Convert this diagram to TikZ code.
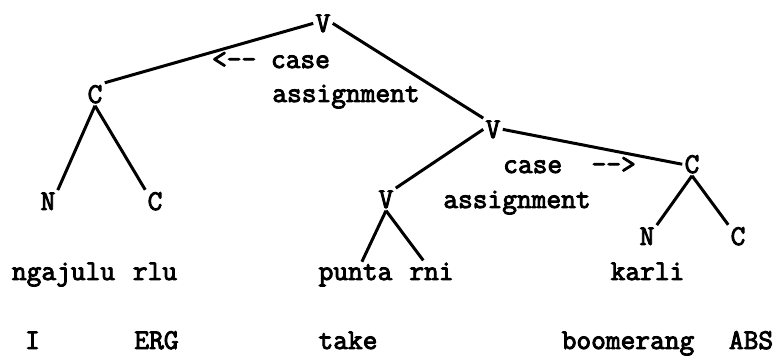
\documentclass[tikz,border=0pt]{standalone}
\usepackage{fontspec}
\usepackage{tikz}

\newfontfamily\treett{Latin Modern Mono}[FakeBold=3.2]

\tikzset{
  treefont/.style={font=\fontsize{14.3}{17.3}\selectfont\treett},
  cat/.style={treefont, anchor=base, inner sep=1pt},
  word/.style={treefont, anchor=base, inner sep=1pt},
  branch/.style={line width=1.5pt},
}

\begin{document}
\begin{tikzpicture}[x=0.5pt, y=-0.5pt]
  %%%%% START %%%%%
  \useasboundingbox (0,0) rectangle (780,356);

  % categories
  \node[cat] (v1) at (323,32) {V};
  \node[cat] (c1) at (95,103) {C};
  \node[cat] (n1) at (48,210) {N};
  \node[cat] (c2) at (155,210) {C};
  \node[cat] (v2) at (493,138) {V};
  \node[cat] (v3) at (386,208) {V};
  \node[cat] (c3) at (692,173) {C};
  \node[cat] (n2) at (647,245) {N};
  \node[cat] (c4) at (738,245) {C};

  % case marking notes
  \node[word] (lcase) at (271,68) {<-{}- case};
  \node[word] (lassign) at (346,102) {assignment};
  \node[word] (rcase) at (569.5,173) {case\ \ -{}->};
  \node[word] (rassign) at (517,208) {assignment};

  % words
  \node[word] (ngajulu) at (63.5,280) {ngajulu};
  \node[word] (rlu) at (155,280) {rlu};
  \node[word] (punta) at (355.5,280) {punta};
  \node[word] (rni) at (431.5,280) {rni};
  \node[word] (karli) at (647.5,280) {karli};

  % glosses
  \node[word] (gI) at (32.5,349) {I};
  \node[word] (gerg) at (156.5,349) {ERG};
  \node[word] (gtake) at (348,349) {take};
  \node[word] (gboom) at (628,349) {boomerang};
  \node[word] (gabs) at (751,349) {ABS};

  % branches
  \draw[branch] (v1.west) -- (c1.north east);
  \draw[branch] (v1.east) -- (v2.north west);
  \draw[branch] (c1.south) -- (n1.north east);
  \draw[branch] (c1.south) -- (c2.north west);
  \draw[branch] (v2.west) -- (v3.north east);
  \draw[branch] (v2.east) -- (c3.west);
  \draw[branch] (c3.south) -- (n2.north east);
  \draw[branch] (c3.south) -- (c4.north west);
  \draw[branch] (v3.south) -- (punta);
  \draw[branch] (v3.south) -- (rni);

  %%%%% END %%%%%
\end{tikzpicture}
\end{document}
